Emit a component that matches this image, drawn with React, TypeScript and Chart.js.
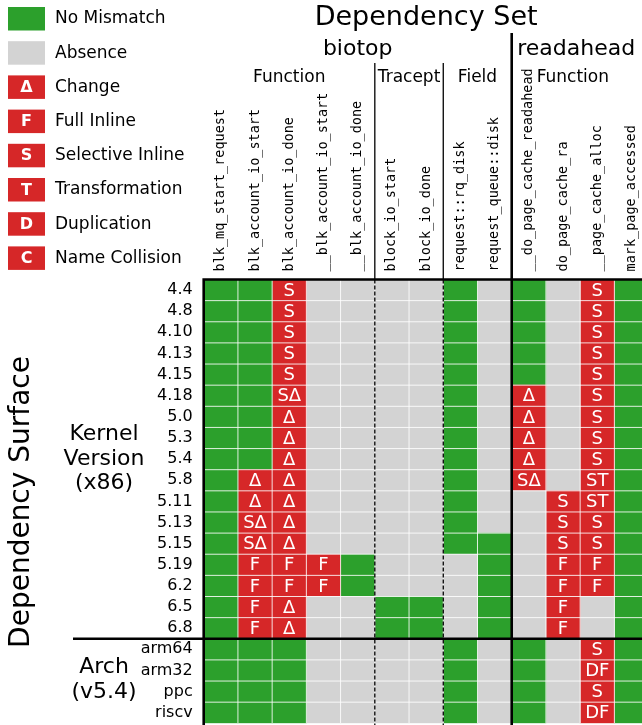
import React, { useEffect, useRef } from 'react';
import { Chart, registerables } from 'chart.js';

Chart.register(...registerables);

// ---------- data ----------
const kernelVersions = ['4.4', '4.8', '4.10', '4.13', '4.15', '4.18', '5.0', '5.3', '5.4', '5.8', '5.11', '5.13', '5.15', '5.19', '6.2', '6.5', '6.8'];
const archLabels = ['arm64', 'arm32', 'ppc', 'riscv'];
const rowLabels = [...kernelVersions, ...archLabels];

const columnLabels = [
  'blk_mq_start_request', 'blk_account_io_start', 'blk_account_io_done', '__blk_account_io_start', '__blk_account_io_done',
  'block_io_start', 'block_io_done',
  'request::rq_disk', 'request_queue::disk',
  '__do_page_cache_readahead', 'do_page_cache_ra', '__page_cache_alloc', 'mark_page_accessed',
];

// 'G' = No Mismatch, '' = Absence, anything else = mismatch markers (red)
//                             4.4 4.8 4.10 4.13 4.15 4.18 5.0 5.3 5.4 5.8 5.11 5.13 5.15 5.19 6.2 6.5 6.8 | arm64 arm32 ppc riscv
const blkMqStartRequest = ['G', 'G', 'G', 'G', 'G', 'G', 'G', 'G', 'G', 'G', 'G', 'G', 'G', 'G', 'G', 'G', 'G', 'G', 'G', 'G', 'G'];
const blkAccountIoStart = ['G', 'G', 'G', 'G', 'G', 'G', 'G', 'G', 'G', 'Δ', 'Δ', 'SΔ', 'SΔ', 'F', 'F', 'F', 'F', 'G', 'G', 'G', 'G'];
const blkAccountIoDone = ['S', 'S', 'S', 'S', 'S', 'SΔ', 'Δ', 'Δ', 'Δ', 'Δ', 'Δ', 'Δ', 'Δ', 'F', 'F', 'Δ', 'Δ', 'G', 'G', 'G', 'G'];
const uBlkAccountIoStart = ['', '', '', '', '', '', '', '', '', '', '', '', '', 'F', 'F', '', '', '', '', '', ''];
const uBlkAccountIoDone = ['', '', '', '', '', '', '', '', '', '', '', '', '', 'G', 'G', '', '', '', '', '', ''];
const blockIoStart = ['', '', '', '', '', '', '', '', '', '', '', '', '', '', '', 'G', 'G', '', '', '', ''];
const blockIoDone = ['', '', '', '', '', '', '', '', '', '', '', '', '', '', '', 'G', 'G', '', '', '', ''];
const requestRqDisk = ['G', 'G', 'G', 'G', 'G', 'G', 'G', 'G', 'G', 'G', 'G', 'G', 'G', '', '', '', '', 'G', 'G', 'G', 'G'];
const requestQueueDisk = ['', '', '', '', '', '', '', '', '', '', '', '', 'G', 'G', 'G', 'G', 'G', '', '', '', ''];
const uDoPageCacheReadahead = ['G', 'G', 'G', 'G', 'G', 'Δ', 'Δ', 'Δ', 'Δ', 'SΔ', '', '', '', '', '', '', '', 'G', 'G', 'G', 'G'];
const doPageCacheRa = ['', '', '', '', '', '', '', '', '', '', 'S', 'S', 'S', 'F', 'F', 'F', 'F', '', '', '', ''];
const uPageCacheAlloc = ['S', 'S', 'S', 'S', 'S', 'S', 'S', 'S', 'S', 'ST', 'ST', 'S', 'S', 'F', 'F', '', '', 'S', 'DF', 'S', 'DF'];
const markPageAccessed = ['G', 'G', 'G', 'G', 'G', 'G', 'G', 'G', 'G', 'G', 'G', 'G', 'G', 'G', 'G', 'G', 'G', 'G', 'G', 'G', 'G'];

const cellColumns = [
  blkMqStartRequest, blkAccountIoStart, blkAccountIoDone, uBlkAccountIoStart, uBlkAccountIoDone,
  blockIoStart, blockIoDone, requestRqDisk, requestQueueDisk,
  uDoPageCacheReadahead, doPageCacheRa, uPageCacheAlloc, markPageAccessed,
];

const setGroupLabels = ['biotop', 'readahead'];
const setGroupStarts = [0, 9];
const setGroupEnds = [9, 13];
const kindGroupLabels = ['Function', 'Tracept', 'Field', 'Function'];
const kindGroupStarts = [0, 5, 7, 9];
const kindGroupEnds = [5, 7, 9, 13];

const legendLabels = ['No Mismatch', 'Absence', 'Change', 'Full Inline', 'Selective Inline', 'Transformation', 'Duplication', 'Name Collision'];
const legendMarks = ['G', '', 'Δ', 'F', 'S', 'T', 'D', 'C'];

// ---------- style ----------
const GREEN = '#2ca02c';
const GRAY = '#d3d3d3';
const RED = '#d62728';
const SANS = '"DejaVu Sans", sans-serif';
const MONO = '"DejaVu Sans Mono", monospace';

const CW = 700;
const CH = 750;
const GRID_LEFT = 203.7;
const GRID_TOP = 279.5;
const GRID_RIGHT = 648.6;
const GRID_BOTTOM = 723.3;
const COL_FONT = 13.5;

const colorFor = (code: string) => (code === 'G' ? GREEN : code === '' ? GRAY : RED);

const decorPlugin = {
  id: 'decor',
  afterDatasetsDraw(chart: any) {
    const { ctx } = chart;
    const xs = chart.scales.x;
    const ys = chart.scales.y;
    const nCols = columnLabels.length;
    const nRows = rowLabels.length;
    const left = xs.getPixelForValue(0);
    const right = xs.getPixelForValue(nCols);
    const top = ys.getPixelForValue(-0.5);
    const bottom = ys.getPixelForValue(nRows - 0.5);
    ctx.save();
    // white cell separators
    ctx.strokeStyle = 'rgba(255,255,255,0.85)';
    ctx.lineWidth = 1;
    ctx.beginPath();
    for (let c = 1; c < nCols; c++) {
      const px = xs.getPixelForValue(c);
      ctx.moveTo(px, top);
      ctx.lineTo(px, bottom);
    }
    for (let r = 1; r < nRows; r++) {
      const py = ys.getPixelForValue(r - 0.5);
      ctx.moveTo(left, py);
      ctx.lineTo(right, py);
    }
    ctx.stroke();

    // cell markers
    ctx.fillStyle = '#ffffff';
    ctx.font = `18px ${SANS}`;
    ctx.textAlign = 'center';
    ctx.textBaseline = 'middle';
    chart.data.datasets.forEach((_: any, c: number) => {
      const meta = chart.getDatasetMeta(c);
      meta.data.forEach((el: any, r: number) => {
        const code = cellColumns[c][r];
        if (code && code !== 'G') {
          const p = el.getProps(['x', 'y', 'base'], true);
          ctx.fillText(code, (p.x + p.base) / 2, p.y + 1);
        }
      });
    });

    // black structure lines
    ctx.strokeStyle = '#000';
    ctx.lineWidth = 1.3;
    ctx.setLineDash([4, 2]);
    [5, 7].forEach((c) => {
      const px = xs.getPixelForValue(c);
      ctx.beginPath();
      ctx.moveTo(px, top);
      ctx.lineTo(px, bottom + 5);
      ctx.stroke();
    });
    ctx.setLineDash([]);
    [5, 7].forEach((c) => {
      const px = xs.getPixelForValue(c);
      ctx.beginPath();
      ctx.moveTo(px, 63);
      ctx.lineTo(px, top);
      ctx.stroke();
    });
    ctx.lineWidth = 2.6;
    ctx.beginPath();
    const x9 = xs.getPixelForValue(9);
    ctx.moveTo(x9, 33);
    ctx.lineTo(x9, bottom + 5);
    ctx.moveTo(left, top - 1.3);
    ctx.lineTo(left, bottom + 5);
    ctx.moveTo(left - 1.3, top);
    ctx.lineTo(right + 5, top);
    const yArch = ys.getPixelForValue(kernelVersions.length - 0.5);
    ctx.moveTo(73, yArch);
    ctx.lineTo(right + 5, yArch);
    ctx.stroke();
    ctx.restore();
  },
  afterDraw(chart: any) {
    const { ctx } = chart;
    const xs = chart.scales.x;
    const ys = chart.scales.y;
    const nCols = columnLabels.length;
    ctx.save();
    ctx.fillStyle = '#000';
    ctx.textBaseline = 'alphabetic';
    ctx.textAlign = 'center';
    ctx.font = `27px ${SANS}`;
    ctx.fillText('Dependency Set', (xs.getPixelForValue(0) + xs.getPixelForValue(nCols)) / 2, 25);
    ctx.font = `22px ${SANS}`;
    setGroupLabels.forEach((lab, i) => {
      if (i === 0) {
        ctx.textAlign = 'center';
        ctx.fillText(lab, (xs.getPixelForValue(setGroupStarts[i]) + xs.getPixelForValue(setGroupEnds[i])) / 2, 55);
      } else {
        ctx.textAlign = 'left';
        ctx.fillText(lab, xs.getPixelForValue(setGroupStarts[i]) + 5.5, 55);
      }
    });
    ctx.font = `17px ${SANS}`;
    kindGroupLabels.forEach((lab, i) => {
      if (i < 3) {
        ctx.textAlign = 'center';
        ctx.fillText(lab, (xs.getPixelForValue(kindGroupStarts[i]) + xs.getPixelForValue(kindGroupEnds[i])) / 2, 82);
      } else {
        ctx.textAlign = 'left';
        ctx.fillText(lab, xs.getPixelForValue(kindGroupStarts[i]) + 25, 82);
      }
    });

    ctx.save();
    ctx.translate(22, 502);
    ctx.rotate(-Math.PI / 2);
    ctx.textAlign = 'center';
    ctx.textBaseline = 'middle';
    ctx.font = `28px ${SANS}`;
    ctx.fillText('Dependency Surface', 0, 0);
    ctx.restore();

    ctx.textAlign = 'center';
    ctx.textBaseline = 'middle';
    ctx.font = `22px ${SANS}`;
    const kMid = (ys.getPixelForValue(-0.5) + ys.getPixelForValue(kernelVersions.length - 0.5)) / 2;
    ['Kernel', 'Version', '(x86)'].forEach((t, i) => ctx.fillText(t, 104, kMid + (i - 1) * 24.5));
    const aMid = (ys.getPixelForValue(kernelVersions.length - 0.5) + ys.getPixelForValue(rowLabels.length - 0.5)) / 2;
    ['Arch', '(v5.4)'].forEach((t, i) => ctx.fillText(t, 104, aMid - 14 + i * 25));

    legendLabels.forEach((lab, i) => {
      const y0 = 7 + i * 34.2;
      const mark = legendMarks[i];
      ctx.fillStyle = colorFor(mark);
      ctx.fillRect(8, y0, 37, 23.5);
      if (mark && mark !== 'G') {
        ctx.fillStyle = '#fff';
        ctx.font = `bold 16px ${SANS}`;
        ctx.textAlign = 'center';
        ctx.textBaseline = 'middle';
        ctx.fillText(mark, 26.5, y0 + 12.5);
      }
      ctx.fillStyle = '#000';
      ctx.font = `17px ${SANS}`;
      ctx.textAlign = 'left';
      ctx.textBaseline = 'middle';
      ctx.fillText(lab, 55, y0 + 12);
    });
    ctx.restore();
  },
};

export default function App() {
  const ref = useRef<HTMLCanvasElement>(null);
  useEffect(() => {
    const canvas = ref.current;
    if (!canvas) return;
    const datasets = cellColumns.map((codes, c) => ({
      label: columnLabels[c],
      data: codes.map(() => [c, c + 1]),
      backgroundColor: codes.map(colorFor),
      borderWidth: 0,
      grouped: false,
      categoryPercentage: 1,
      barPercentage: 1,
    }));
    const chart = new Chart(canvas, {
      type: 'bar',
      data: { labels: rowLabels, datasets: datasets as any },
      options: {
        indexAxis: 'y',
        responsive: false,
        animation: false,
        devicePixelRatio: 1,
        layout: { padding: { left: 0, top: 0, right: CW - GRID_RIGHT, bottom: CH - GRID_BOTTOM } },
        plugins: { legend: { display: false }, tooltip: { enabled: false }, title: { display: false } },
        scales: {
          x: {
            type: 'linear',
            position: 'top',
            min: 0,
            max: columnLabels.length,
            bounds: 'data',
            grid: { display: false, drawTicks: false },
            border: { display: false },
            afterBuildTicks: (s: any) => {
              s.ticks = columnLabels.map((_, i) => ({ value: i + 0.5 }));
            },
            afterFit: (s: any) => {
              s.height = GRID_TOP;
            },
            ticks: {
              autoSkip: false,
              minRotation: 90,
              maxRotation: 90,
              padding: 8,
              labelOffset: COL_FONT * 1.2,
              color: '#000',
              font: { family: MONO, size: COL_FONT },
              callback: (_v: any, i: number) => columnLabels[i],
            },
          },
          y: {
            type: 'category',
            grid: { display: false, drawTicks: false },
            border: { display: false },
            afterFit: (s: any) => {
              s.width = GRID_LEFT;
            },
            ticks: {
              autoSkip: false,
              padding: 11,
              color: '#000',
              font: { family: SANS, size: 16 },
            },
          },
        },
      } as any,
      plugins: [decorPlugin],
    });
    return () => chart.destroy();
  }, []);

  return (
    <div style={{ position: 'absolute', left: 0, top: 0, width: 642, height: 725, overflow: 'hidden', background: '#fff' }}>
      <canvas ref={ref} width={CW} height={CH} style={{ display: 'block', width: CW, height: CH }} />
    </div>
  );
}
